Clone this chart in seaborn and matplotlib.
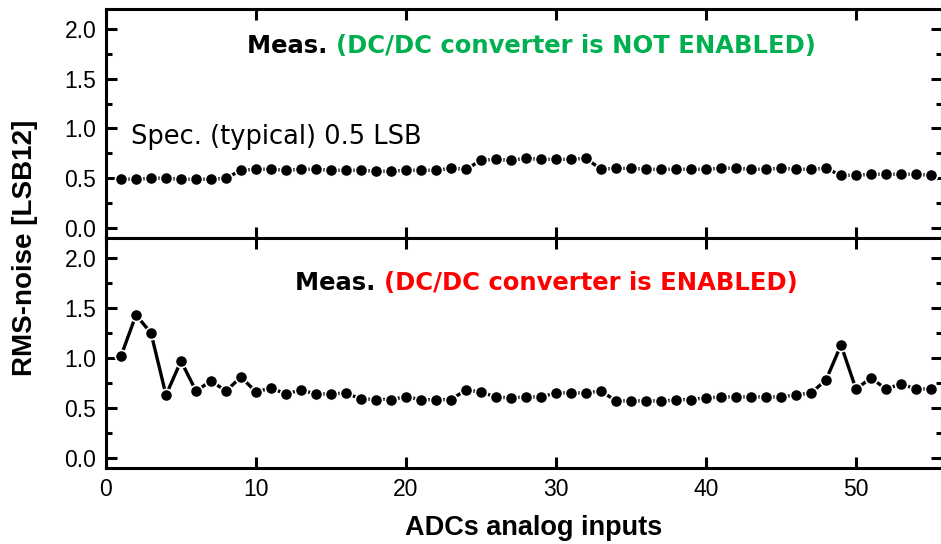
import numpy as np
import pandas as pd
import matplotlib
matplotlib.use("Agg")
import matplotlib.pyplot as plt
from matplotlib.ticker import MultipleLocator
import seaborn as sns

# ADC input channels 1..55
channels = list(range(1, 56))

# RMS noise with the DC/DC converter disabled
noise_dcdc_off = [
    0.49, 0.49, 0.50, 0.50, 0.49, 0.49, 0.49, 0.50,
    0.58, 0.59, 0.59, 0.58, 0.59, 0.59, 0.58, 0.58, 0.58, 0.57, 0.57, 0.58,
    0.58, 0.58, 0.60, 0.59,
    0.68, 0.69, 0.68, 0.70, 0.69, 0.69, 0.69, 0.70,
    0.59, 0.60, 0.60, 0.59, 0.59, 0.59, 0.59, 0.59, 0.60, 0.60, 0.59, 0.59,
    0.60, 0.59, 0.59, 0.60,
    0.53, 0.53, 0.54, 0.54, 0.54, 0.54, 0.53,
]

# RMS noise with the DC/DC converter enabled
noise_dcdc_on = [
    1.02, 1.43, 1.25, 0.63, 0.97, 0.67, 0.77, 0.67, 0.81, 0.66,
    0.70, 0.64, 0.68, 0.64, 0.64, 0.65, 0.59, 0.585, 0.585, 0.61,
    0.585, 0.58, 0.585, 0.68, 0.66, 0.61, 0.60, 0.61, 0.61, 0.65,
    0.65, 0.65, 0.67, 0.57, 0.57, 0.57, 0.57, 0.58, 0.585, 0.60,
    0.61, 0.61, 0.61, 0.61, 0.61, 0.63, 0.65, 0.78, 1.13, 0.69,
    0.80, 0.69, 0.74, 0.69, 0.69,
]

y_ticks = [0.0, 0.5, 1.0, 1.5, 2.0]
x_ticks = [0, 10, 20, 30, 40, 50]

sns.set_theme(style="ticks")
plt.rcParams["font.family"] = ["Liberation Sans", "DejaVu Sans"]
plt.rcParams["text.color"] = "black"
plt.rcParams["axes.labelcolor"] = "black"
plt.rcParams["xtick.color"] = "black"
plt.rcParams["ytick.color"] = "black"

W, H = 941, 544
fig = plt.figure(figsize=(W / 100, H / 100), dpi=100)

left = 106 / W
right = 941.5 / W
top_y0 = 1 - 238 / H
top_y1 = 1 - 9 / H
bot_y0 = 1 - 468 / H

ax_top = fig.add_axes([left, top_y0, right - left, top_y1 - top_y0])
ax_bot = fig.add_axes([left, bot_y0, right - left, top_y0 - bot_y0], sharex=ax_top)

df_off = pd.DataFrame({"ch": channels, "noise": noise_dcdc_off})
df_on = pd.DataFrame({"ch": channels, "noise": noise_dcdc_on})

line_kw = dict(color="black", linewidth=2.4, marker="o", markersize=8.8,
               markeredgecolor="white", markeredgewidth=1.2, markerfacecolor="black")

sns.lineplot(data=df_off, x="ch", y="noise", ax=ax_top, **line_kw)
sns.lineplot(data=df_on, x="ch", y="noise", ax=ax_bot, **line_kw)

for ax in (ax_top, ax_bot):
    ax.set_xlim(0, 55.7)
    ax.set_ylim(-0.1, 2.2)
    ax.set_yticks(y_ticks)
    ax.yaxis.set_minor_locator(MultipleLocator(0.25))
    ax.set_xticks(x_ticks)
    ax.set_xlabel("")
    ax.set_ylabel("")
    for sp in ax.spines.values():
        sp.set_linewidth(2.2)
        sp.set_color("black")
        sp.set_visible(True)
    ax.tick_params(axis="both", which="major", direction="in", length=8, width=2.2,
                   top=True, right=True, labelsize=16.5, colors="black", pad=7)
    ax.tick_params(axis="both", which="minor", direction="in", length=4, width=2.2,
                   top=True, right=True)
    ax.tick_params(axis="x", which="minor", bottom=False, top=False)

ax_top.tick_params(axis="x", labelbottom=False)
ax_top.set_yticklabels([f"{v:.1f}" for v in y_ticks])
ax_bot.set_yticklabels([f"{v:.1f}" for v in y_ticks])
ax_bot.set_xticklabels([str(v) for v in x_ticks])

ax_bot.set_xlabel("ADCs analog inputs", fontsize=19.5, fontweight="bold",
                  labelpad=9, color="black")
ax_bot.xaxis.set_label_coords(0.512, -0.205)
fig.text(25 / W, 1 - 248 / H, "RMS-noise [LSB12]", rotation=90, fontsize=20,
         fontweight="bold", ha="center", va="center", color="black")

title_font = dict(fontsize=17.5, fontweight="bold", family="DejaVu Sans")

t1 = ax_top.text(9.4, 1.83, "Meas. ", color="black", va="center", ha="left", **title_font)
ax_top.annotate("(DC/DC converter is NOT ENABLED)", xy=(1, 0), xycoords=t1,
                va="bottom", ha="left", color="#00B050", **title_font)

t2 = ax_bot.text(12.6, 1.75, "Meas. ", color="black", va="center", ha="left", **title_font)
ax_bot.annotate("(DC/DC converter is ENABLED)", xy=(1, 0), xycoords=t2,
                va="bottom", ha="left", color="#FF0000", **title_font)

ax_top.text(1.67, 0.91, "Spec. (typical) 0.5 LSB", fontsize=18.5, family="DejaVu Sans",
            va="center", ha="left", color="black")

fig.savefig("out.png", dpi=100)
